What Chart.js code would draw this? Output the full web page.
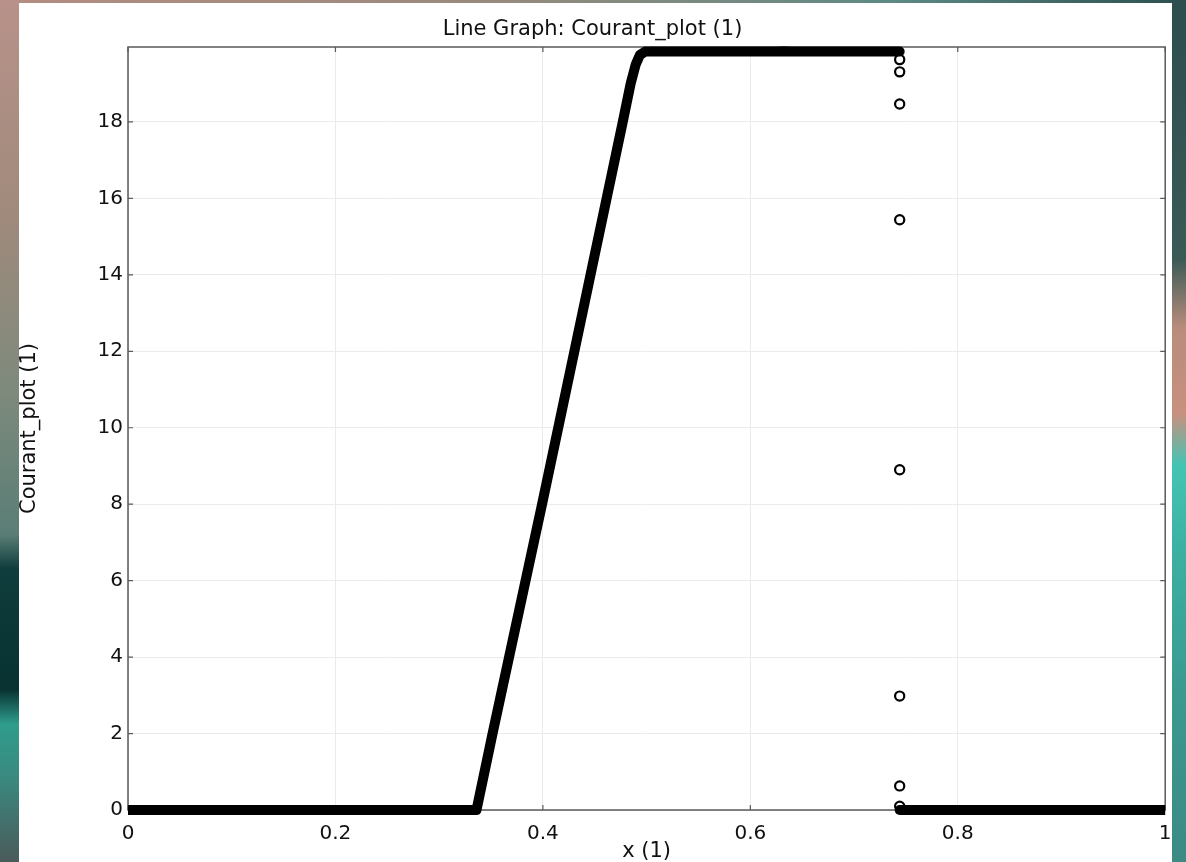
<!DOCTYPE html>
<html>
<head>
<meta charset="utf-8">
<script src="https://cdn.jsdelivr.net/npm/chart.js@4"></script>
<style>
  html, body { margin: 0; padding: 0; }
  body {
    width: 1186px; height: 862px; overflow: hidden; position: relative;
    background: linear-gradient(90deg, #b38d82 0%, #9a8a7c 40%, #5e8a84 75%, #2c4f4e 100%);
  }
  .edgeL {
    position: absolute; left: 0; top: 0; width: 19px; height: 862px;
    background: linear-gradient(180deg, #b8928a 0%, #a08a7c 25%, #7e8a7c 45%, #5a7e76 62%, #0f3c3c 66%, #083232 80%, #2f9c8c 84%, #3a8a80 90%, #4a5a5a 100%);
  }
  .edgeR {
    position: absolute; right: 0; top: 0; width: 14px; height: 862px;
    background: linear-gradient(180deg, #2c4e4e 0%, #3a5a56 30%, #b88c7c 38%, #c8907e 48%, #44c4b4 54%, #3cb0a2 64%, #3a9a90 80%, #3c8a84 100%);
  }
  .panel {
    position: absolute; left: 19px; top: 3px; width: 1153px; height: 859px; background: #fff;
  }
  canvas { display: block; }
</style>
</head>
<body>
<div class="edgeL"></div>
<div class="edgeR"></div>
<div class="panel">
  <canvas id="courant" width="1153" height="859"></canvas>
</div>
<script>
// Courant number along x: zero, linear ramp, plateau, then drop back to zero
const rampX = [0, 0.336, 0.3515, 0.3992, 0.4148, 0.4770, 0.4846, 0.4895, 0.4935, 0.4985, 0.625, 0.632, 0.640, 0.744];
const rampY = [0, 0, 2, 8, 10, 18, 19.0, 19.5, 19.75, 19.84, 19.84, 19.85, 19.84, 19.84];
const tailX = [0.744, 1];
const tailY = [0, 0];
// scattered values at the discontinuity
const jumpX = 0.744;
const jumpY = [19.63, 19.31, 18.47, 15.44, 8.90, 2.98, 0.63, 0.10];

const xTicks = [0, 0.2, 0.4, 0.6, 0.8, 1];
const yTicks = [0, 2, 4, 6, 8, 10, 12, 14, 16, 18];
const xLabels = ["0", "0.2", "0.4", "0.6", "0.8", "1"];

const FONT = "'DejaVu Sans', sans-serif";
const ink = "#111";
// lines stop at the left/right frame, but may spill over top and bottom
const lineClip = { left: 0, right: 0, top: 6, bottom: 6 };

function pts(xs, ys) {
  return xs.map((x, i) => ({ x: x, y: ys[i] }));
}

// box around the plot with small inward tick marks on all four sides
const frame = {
  id: "frame",
  beforeDatasetsDraw(chart) {
    const { ctx, chartArea: a, scales } = chart;
    ctx.save();
    ctx.strokeStyle = "#5a5a5a";
    ctx.lineWidth = 1.5;
    ctx.strokeRect(a.left, a.top, a.right - a.left, a.bottom - a.top);
    ctx.lineWidth = 1.2;
    ctx.beginPath();
    xTicks.forEach(v => {
      const px = scales.x.getPixelForValue(v);
      ctx.moveTo(px, a.bottom); ctx.lineTo(px, a.bottom - 5);
      ctx.moveTo(px, a.top); ctx.lineTo(px, a.top + 5);
    });
    yTicks.forEach(v => {
      const py = scales.y.getPixelForValue(v);
      ctx.moveTo(a.left, py); ctx.lineTo(a.left + 5, py);
      ctx.moveTo(a.right, py); ctx.lineTo(a.right - 5, py);
    });
    ctx.stroke();
    ctx.restore();
  }
};

const ctx = document.getElementById("courant").getContext("2d");
const chart = new Chart(ctx, {
  type: "line",
  data: {
    datasets: [
      {
        data: pts(rampX, rampY),
        borderColor: "#000",
        borderWidth: 10,
        borderCapStyle: "round",
        borderJoinStyle: "round",
        pointRadius: 0,
        tension: 0,
        clip: lineClip,
        order: 0
      },
      {
        data: pts(tailX, tailY),
        borderColor: "#000",
        borderWidth: 10,
        borderCapStyle: "round",
        pointRadius: 0,
        clip: lineClip,
        order: 0
      },
      {
        data: jumpY.map(y => ({ x: jumpX, y: y })),
        showLine: false,
        pointStyle: "circle",
        pointRadius: 4.6,
        pointBorderWidth: 2.2,
        pointBorderColor: "#000",
        pointBackgroundColor: "#fff",
        clip: 8,
        order: 1
      }
    ]
  },
  options: {
    responsive: false,
    animation: false,
    events: [],
    layout: { padding: { left: 0, right: 6, top: 0, bottom: 0 } },
    plugins: {
      legend: { display: false },
      tooltip: { enabled: false },
      title: {
        display: true,
        text: "Line Graph: Courant_plot (1)",
        color: ink,
        font: { family: FONT, size: 21, weight: "normal" },
        padding: { top: 14, bottom: 4.8 }
      }
    },
    scales: {
      x: {
        type: "linear",
        min: 0,
        max: 1,
        afterBuildTicks: s => { s.ticks = xTicks.map(v => ({ value: v })); },
        afterFit: s => { s.height = 52; s.paddingLeft = 0; s.paddingRight = 0; },
        grid: { color: "#ebebeb", lineWidth: 1, drawTicks: false },
        border: { display: false },
        ticks: {
          color: ink,
          font: { family: FONT, size: 20 },
          padding: 12,
          maxRotation: 0,
          autoSkip: false,
          callback: (v, i) => xLabels[i]
        },
        title: {
          display: true,
          text: "x (1)",
          color: ink,
          font: { family: FONT, size: 21, lineHeight: 1 },
          padding: { top: 0.5, bottom: 0 }
        }
      },
      y: {
        type: "linear",
        min: 0,
        max: 19.96,
        afterBuildTicks: s => { s.ticks = yTicks.map(v => ({ value: v })); },
        afterFit: s => { s.width = 109; },
        grid: { color: "#ebebeb", lineWidth: 1, drawTicks: false },
        border: { display: false },
        ticks: {
          color: ink,
          font: { family: FONT, size: 20 },
          padding: 5
        },
        title: {
          display: true,
          text: "Courant_plot (1)",
          color: ink,
          font: { family: FONT, size: 21, lineHeight: 1 },
          padding: { top: 0, bottom: 0 }
        }
      }
    }
  },
  plugins: [frame]
});
</script>
</body>
</html>
